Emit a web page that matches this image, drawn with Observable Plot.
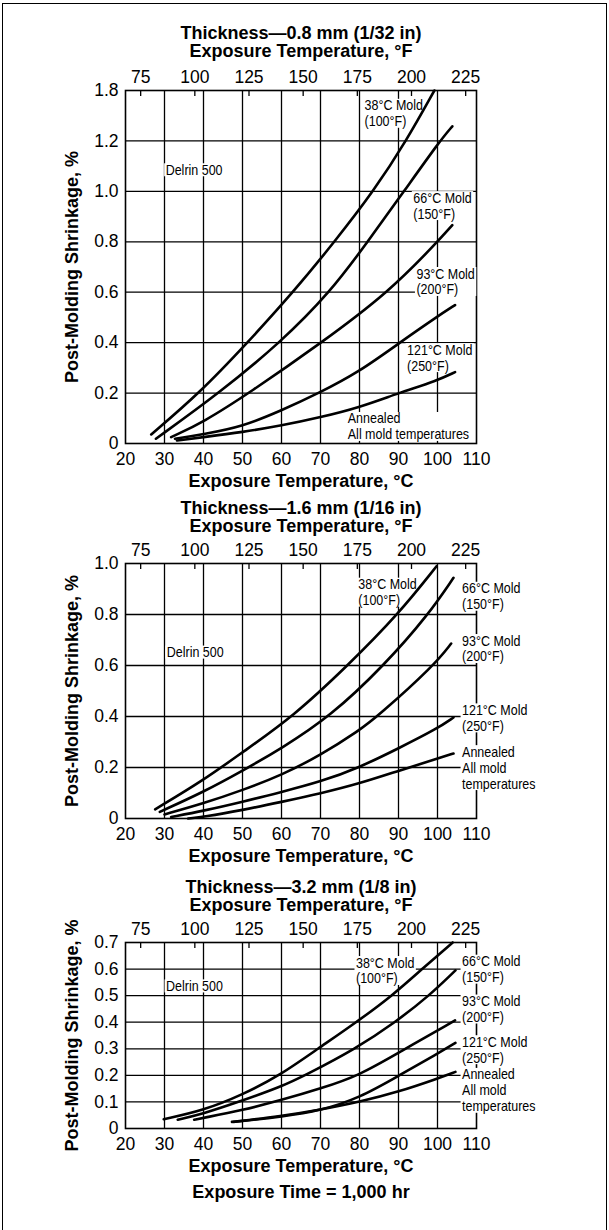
<!DOCTYPE html>
<html>
<head>
<meta charset="utf-8">
<script src="https://cdn.jsdelivr.net/npm/d3@7"></script>
<script src="https://cdn.jsdelivr.net/npm/@observablehq/plot@0.6"></script>
<style>
  html, body { margin: 0; padding: 0; background: #fff; }
  #page { position: relative; width: 609px; height: 1230px; overflow: hidden; background: #fff; }
  .panel { position: absolute; left: 0; }
  #border { position: absolute; left: 2px; top: 3px; width: 603px; height: 1300px; border: 1.5px solid #000; pointer-events: none; }
</style>
</head>
<body>
<div id="page">
  <div id="p1" class="panel" style="top:0px"></div>
  <div id="p2" class="panel" style="top:493px"></div>
  <div id="p3" class="panel" style="top:868px"></div>
  <div id="border"></div>
</div>
<script>
// ---------- shared axis data ----------
const celsiusTicks = [20, 30, 40, 50, 60, 70, 80, 90, 100, 110];
const celsiusGrid = [30, 40, 50, 60, 70, 80, 90, 100];
const fahrenheitTicks = [75, 100, 125, 150, 175, 200, 225];
const yAxisLabel = "Post-Molding Shrinkage, %";
const topAxisLabel = "Exposure Temperature, °F";
const bottomAxisLabel = "Exposure Temperature, °C";
const footer = "Exposure Time = 1,000 hr";
const seriesNames = ["38°C Mold", "66°C Mold", "93°C Mold", "121°C Mold", "Annealed"];

// ---------- panel 1: 0.8 mm ----------
const title08 = "Thickness—0.8 mm (1/32 in)";
const yTicks08 = [0, 0.2, 0.4, 0.6, 0.8, 1.0, 1.2, 1.4];
const yTickLabels08 = ["0", "0.2", "0.4", "0.6", "0.8", "1.0", "1.2", "1.8"];
const mold38_08 = [[26.6,0.036],[39.0,0.2],[51.3,0.4],[63.0,0.6],[73.6,0.8],[83.6,1.0],[92.0,1.2],[99.2,1.4]];
const mold66_08 = [[27.8,0.019],[44.0,0.2],[59.7,0.4],[72.5,0.6],[82.1,0.8],[91.4,1.0],[100.6,1.2],[103.8,1.258]];
const mold93_08 = [[31.7,0.025],[40,0.085],[51.7,0.2],[70.3,0.4],[87.5,0.6],[100,0.8],[103.8,0.866]];
const mold121_08 = [[32.7,0.019],[40,0.037],[50,0.067],[60,0.131],[69.6,0.2],[80,0.285],[90.3,0.4],[100,0.504],[104.5,0.549]];
const annealed_08 = [[33.2,0.012],[40,0.025],[50,0.045],[60,0.071],[70,0.104],[80,0.143],[90,0.2],[100,0.25],[104.5,0.283]];
const notes08 = ["38°C Mold\n(100°F)", "66°C Mold\n(150°F)", "93°C Mold\n(200°F)", "121°C Mold\n(250°F)", "Annealed\nAll mold temperatures", "Delrin 500"];
const noteAt08 = [[81.3,1.31],[93.8,0.944],[94.6,0.643],[92.2,0.341],[77.0,0.068],[30.3,1.086]];

// ---------- panel 2: 1.6 mm ----------
const title16 = "Thickness—1.6 mm (1/16 in)";
const yTicks16 = [0, 0.2, 0.4, 0.6, 0.8, 1.0];
const yTickLabels16 = ["0", "0.2", "0.4", "0.6", "0.8", "1.0"];
const mold38_16 = [[27.6,0.036],[40,0.15],[50,0.26],[63,0.4],[77,0.6],[89.9,0.8],[99.8,0.99]];
const mold66_16 = [[28.8,0.026],[40,0.104],[50,0.187],[60,0.275],[72.5,0.4],[86.3,0.6],[97.7,0.8],[104.1,0.944]];
const mold93_16 = [[30.0,0.016],[40,0.059],[50,0.111],[60,0.17],[70,0.248],[80,0.346],[84.6,0.4],[99.1,0.6],[103.5,0.686]];
const mold121_16 = [[31.7,0.006],[40,0.03],[50,0.065],[60,0.104],[70,0.144],[80,0.2],[90,0.275],[100,0.353],[104.1,0.396]];
const annealed_16 = [[36.1,0.0],[40,0.006],[50,0.033],[60,0.065],[70,0.098],[80,0.137],[90,0.187],[100,0.235],[104.1,0.255]];
const notes16 = ["38°C Mold\n(100°F)", "66°C Mold\n(150°F)", "93°C Mold\n(200°F)", "121°C Mold\n(250°F)", "Annealed\nAll mold\ntemperatures", "Delrin 500"];
const noteAt16 = [[79.7,0.888],[106.3,0.872],[106.3,0.667],[106.3,0.395],[106.3,0.2],[30.6,0.653]];

// ---------- panel 3: 3.2 mm ----------
const title32 = "Thickness—3.2 mm (1/8 in)";
const yTicks32 = [0, 0.1, 0.2, 0.3, 0.4, 0.5, 0.6, 0.7];
const yTickLabels32 = ["0", "0.1", "0.2", "0.3", "0.4", "0.5", "0.6", "0.7"];
const mold38_32 = [[29.8,0.035],[40,0.068],[50,0.127],[59.6,0.2],[69.3,0.3],[79.2,0.4],[88.4,0.5],[96.0,0.6],[103.9,0.7]];
const mold66_32 = [[33.4,0.033],[40,0.056],[49,0.1],[60,0.158],[66,0.2],[79,0.3],[89.2,0.4],[97.9,0.5],[104.6,0.595]];
const mold93_32 = [[37.6,0.033],[40,0.04],[50,0.069],[60,0.107],[70,0.15],[80,0.2],[90,0.285],[104.5,0.407]];
const mold121_32 = [[47.3,0.025],[50,0.028],[60,0.044],[70,0.067],[80,0.115],[90,0.198],[100,0.282],[104.6,0.322]];
const annealed_32 = [[47.7,0.025],[60,0.047],[70,0.071],[80,0.1],[90,0.138],[100,0.188],[104.6,0.213]];
const notes32 = ["38°C Mold\n(100°F)", "66°C Mold\n(150°F)", "93°C Mold\n(200°F)", "121°C Mold\n(250°F)", "Annealed\nAll mold\ntemperatures", "Delrin 500"];
const noteAt32 = [[79.1,0.595],[106.3,0.6],[106.3,0.45],[106.3,0.297],[106.3,0.144],[30.4,0.537]];

// ---------- drawing ----------
const F2C = f => (f - 32) * 5 / 9;
const mainFont = "'Liberation Sans', Arial, Helvetica, sans-serif";
const noteFont = "'Liberation Sans Narrow', 'Liberation Sans', Arial, sans-serif";

function panel({title, yTicks, yTickLabels, series, notes, noteAt, marginTop, frameH, marginBottom, titleDy, withFooter}) {
  const rows = series.flatMap((pts, k) => pts.map(p => ({s: seriesNames[k], c: p[0], v: p[1]})));
  const noteRows = notes.map((t, i) => ({t, c: noteAt[i][0], v: noteAt[i][1]}));
  const yMax = yTicks[yTicks.length - 1];
  const marks = [
    Plot.gridX(celsiusGrid, {stroke: "#000", strokeOpacity: 1, strokeWidth: 1.3}),
    Plot.gridY(yTicks.slice(1, -1), {stroke: "#000", strokeOpacity: 1, strokeWidth: 1.3}),
    Plot.tickX(fahrenheitTicks.map(F2C), {x: d => d, insetBottom: frameH - 6, stroke: "#000", strokeWidth: 1.3}),
    Plot.frame({stroke: "#000", strokeWidth: 1.6}),
    Plot.text(noteRows, {x: "c", y: "v", text: "t", textAnchor: "start", lineAnchor: "middle", lineHeight: 1.1,
      fontFamily: noteFont, fontSize: 14.5, fill: "#000"}),
    Plot.line(rows, {x: "c", y: "v", z: "s", curve: "basis", stroke: "#000", strokeWidth: 2.6}),
    Plot.axisX({anchor: "bottom", ticks: celsiusTicks, tickSize: 0, tickPadding: 9, label: null, fontSize: 17.5}),
    Plot.axisX({anchor: "top", ticks: fahrenheitTicks.map(F2C), tickFormat: c => String(Math.round(c * 9 / 5 + 32)), tickSize: 0, tickPadding: 8, label: null, fontSize: 17.5}),
    Plot.axisY({anchor: "left", ticks: yTicks, tickFormat: d => yTickLabels[yTicks.indexOf(d)], tickSize: 0, tickPadding: 7, label: null, fontSize: 17.5}),
    Plot.text([title + "\n" + topAxisLabel], {frameAnchor: "top", dy: titleDy, textAnchor: "middle", fontWeight: "bold", fontSize: 18, lineHeight: 1.0, lineAnchor: "middle"}),
    Plot.text([bottomAxisLabel], {frameAnchor: "bottom", dy: 38, textAnchor: "middle", fontWeight: "bold", fontSize: 18, lineAnchor: "middle"}),
    Plot.text([yAxisLabel], {frameAnchor: "left", dx: -53, rotate: -90, textAnchor: "middle", fontWeight: "bold", fontSize: 18, lineAnchor: "middle"})
  ];
  if (withFooter) marks.push(Plot.text([footer], {frameAnchor: "bottom", dy: 64, textAnchor: "middle", fontWeight: "bold", fontSize: 18, lineAnchor: "middle"}));
  return Plot.plot({
    width: 609,
    height: marginTop + frameH + marginBottom,
    marginLeft: 125, marginRight: 133, marginTop, marginBottom,
    style: {fontFamily: mainFont, fontSize: "17px", color: "#000", background: "transparent", overflow: "visible"},
    x: {domain: [20, 110]},
    y: {domain: [0, yMax]},
    marks
  });
}

// condensed look for the curve annotations (the reference uses a narrow face),
// and white boxes behind them that mask the grid, as in the reference
function dressNotes(svg, factor) {
  const NS = "http://www.w3.org/2000/svg";
  svg.querySelectorAll("g[font-family*='Narrow']").forEach(g => {
    g.querySelectorAll("text").forEach(t => {
      const spans = t.querySelectorAll("tspan");
      const els = spans.length ? Array.from(spans) : [t];
      els.forEach(el => {
        const L = el.getComputedTextLength();
        if (L > 0) {
          el.setAttribute("textLength", (L * factor).toFixed(2));
          el.setAttribute("lengthAdjust", "spacingAndGlyphs");
        }
      });
      const bb = t.getBBox();
      const r = document.createElementNS(NS, "rect");
      r.setAttribute("x", bb.x - 1.5);
      r.setAttribute("y", bb.y + 1.5);
      r.setAttribute("width", bb.width + 3);
      r.setAttribute("height", Math.max(0, bb.height - 3));
      r.setAttribute("fill", "#fff");
      const tr = t.getAttribute("transform");
      if (tr) r.setAttribute("transform", tr);
      t.parentNode.insertBefore(r, t);
    });
  });
}

const configs = [
  ["p1", {title: title08, yTicks: yTicks08, yTickLabels: yTickLabels08,
    series: [mold38_08, mold66_08, mold93_08, mold121_08, annealed_08],
    notes: notes08, noteAt: noteAt08, marginTop: 90, frameH: 353, marginBottom: 50, titleDy: -48}],
  ["p2", {title: title16, yTicks: yTicks16, yTickLabels: yTickLabels16,
    series: [mold38_16, mold66_16, mold93_16, mold121_16, annealed_16],
    notes: notes16, noteAt: noteAt16, marginTop: 70, frameH: 255, marginBottom: 50, titleDy: -46}],
  ["p3", {title: title32, yTicks: yTicks32, yTickLabels: yTickLabels32,
    series: [mold38_32, mold66_32, mold93_32, mold121_32, annealed_32],
    notes: notes32, noteAt: noteAt32, marginTop: 74, frameH: 186, marginBottom: 80, titleDy: -46, withFooter: true}]
];
for (const [id, cfg] of configs) {
  const svg = panel(cfg);
  document.getElementById(id).append(svg);
  dressNotes(svg, 0.86);
}
</script>
</body>
</html>
